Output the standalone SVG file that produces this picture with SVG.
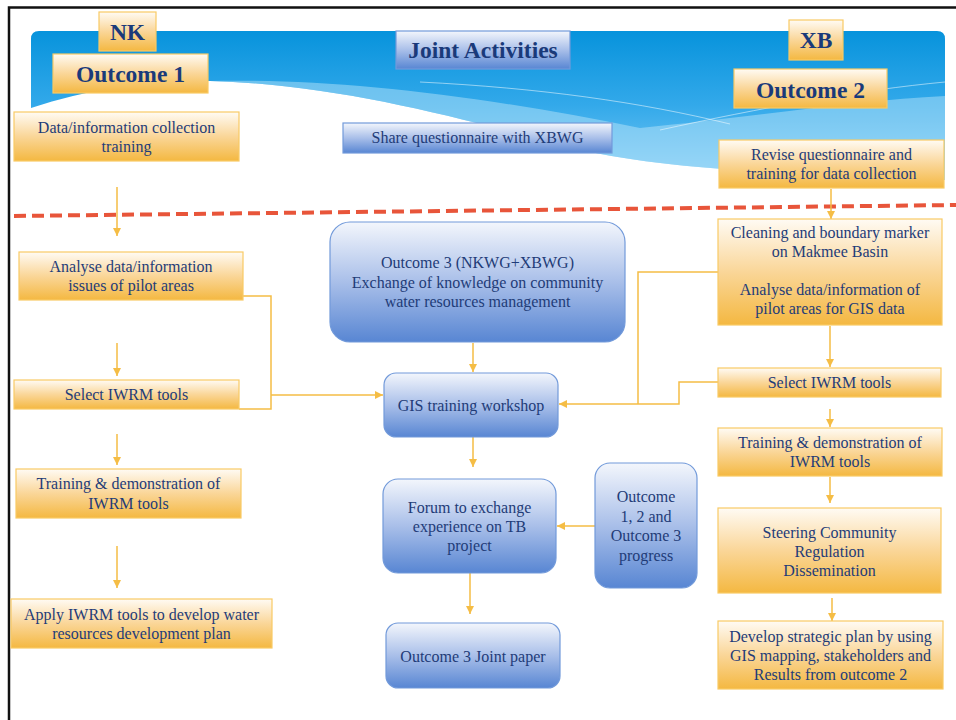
<svg xmlns="http://www.w3.org/2000/svg" width="956" height="720" viewBox="0 0 956 720">
  <defs>
    <linearGradient id="gOrange" x1="0" y1="0" x2="0" y2="1">
      <stop offset="0" stop-color="#fffbf4"/>
      <stop offset="0.5" stop-color="#fad698"/>
      <stop offset="1" stop-color="#f4b841"/>
    </linearGradient>
    <linearGradient id="gBlue" x1="0" y1="0" x2="0" y2="1">
      <stop offset="0" stop-color="#f3f6fc"/>
      <stop offset="0.5" stop-color="#a9bfe9"/>
      <stop offset="1" stop-color="#5886d3"/>
    </linearGradient>
    <linearGradient id="gBanner" gradientUnits="userSpaceOnUse" x1="0" y1="31" x2="0" y2="180">
      <stop offset="0" stop-color="#0793dc"/>
      <stop offset="0.5" stop-color="#33a9ea"/>
      <stop offset="1" stop-color="#7ccbf5"/>
    </linearGradient>
    <marker id="arrow" markerUnits="userSpaceOnUse" markerWidth="9" markerHeight="9" refX="8" refY="4.5" orient="auto">
      <path d="M0,0.5 L8,4.5 L0,8.5 Z" fill="#f5bd45"/>
    </marker>
    <style>
      .org { fill: url(#gOrange); stroke: #f8ca65; stroke-width: 1.2; }
      .blu { fill: url(#gBlue); stroke: #729ada; stroke-width: 1.2; }
      .t { font-family: "Liberation Serif", "Times New Roman", serif; font-size: 16px; fill: #1f3c78; text-anchor: middle; }
      .b { font-family: "Liberation Serif", "Times New Roman", serif; font-size: 23.5px; font-weight: bold; fill: #1a3a7a; text-anchor: middle; }
      .c { fill: none; stroke: #f5bd45; stroke-width: 1.5; }
      .ca { fill: none; stroke: #f5bd45; stroke-width: 1.5; marker-end: url(#arrow); }
    </style>
  </defs>

  <!-- page frame -->
  <path d="M9,720 V7.5 H956" fill="none" stroke="#111" stroke-width="2.5"/>

  <!-- header banner with wave -->
  <g id="banner">
    <path d="M31,108 V39 Q31,31 39,31 H937 Q945,31 945,39 V180 C720,172 640,165 560,145 C450,115 330,84 210,81 C150,80 90,88 31,108 Z" fill="url(#gBanner)"/>
    <path d="M210,81 C330,78 480,95 640,128 C760,116 860,100 945,96 V180 C720,172 640,165 560,145 C450,115 330,84 210,81 Z" fill="#c4e8fb" opacity="0.45"/>
    <path d="M420,82 C540,88 640,102 730,124" fill="none" stroke="#ffffff" stroke-opacity="0.5" stroke-width="1"/>
    <path d="M660,130 C760,108 860,90 945,82" fill="none" stroke="#ffffff" stroke-opacity="0.5" stroke-width="1"/>
  </g>

  <!-- divider between planning and implementation -->
  <line x1="14" y1="216" x2="956" y2="205" stroke="#e8553a" stroke-width="4" stroke-dasharray="12 6"/>

  <!-- connectors -->
  <g id="connectors">
    <path class="ca" d="M117,187 V236"/>
    <path class="ca" d="M117,343 V376"/>
    <path class="ca" d="M117,434 V465"/>
    <path class="ca" d="M117,546 V588"/>
    <path class="c" d="M243,296 H271 V409 H239"/>
    <path class="ca" d="M271,395 H383"/>
    <path class="ca" d="M473,343 V372"/>
    <path class="ca" d="M473,437 V467"/>
    <path class="ca" d="M595,526 H557"/>
    <path class="ca" d="M470,573 V614"/>
    <path class="ca" d="M831,189 V219"/>
    <path class="ca" d="M830,326 V367"/>
    <path class="ca" d="M830,409 V427"/>
    <path class="ca" d="M830,477 V503"/>
    <path class="ca" d="M832,598 V621"/>
    <path class="c" d="M718,272 H638 V404"/>
    <path class="ca" d="M718,382 H679 V404 H559"/>
  </g>

  <!-- NK side (Outcome 1) -->
  <g id="nk">
    <rect class="org" x="99" y="12" width="57" height="39"/>
    <text class="b" x="127.5" y="40">NK</text>
  </g>
  <g id="outcome1">
    <rect class="org" x="53" y="54" width="155" height="39"/>
    <text class="b" x="130.5" y="82">Outcome 1</text>
  </g>
  <g id="nk-collection-training">
    <rect class="org" x="14" y="112" width="225" height="49"/>
    <text class="t" x="126.5" y="132.5">Data/information collection</text>
    <text class="t" x="126.5" y="152">training</text>
  </g>
  <g id="nk-analyse">
    <rect class="org" x="19" y="252" width="224" height="48"/>
    <text class="t" x="131" y="272">Analyse data/information</text>
    <text class="t" x="131" y="291">issues of pilot areas</text>
  </g>
  <g id="nk-select-tools">
    <rect class="org" x="14" y="380" width="225" height="29"/>
    <text class="t" x="126.5" y="400">Select IWRM tools</text>
  </g>
  <g id="nk-training-demo">
    <rect class="org" x="16" y="469" width="225" height="49"/>
    <text class="t" x="128.5" y="489">Training &amp; demonstration of</text>
    <text class="t" x="128.5" y="508.5">IWRM tools</text>
  </g>
  <g id="nk-apply-tools">
    <rect class="org" x="11" y="599" width="261" height="49"/>
    <text class="t" x="141.5" y="619.5">Apply IWRM tools to develop water</text>
    <text class="t" x="141.5" y="638.5">resources development plan</text>
  </g>

  <!-- joint activities (Outcome 3) -->
  <g id="joint-activities">
    <rect class="blu" x="396" y="31" width="174" height="38"/>
    <text class="b" x="483" y="58">Joint Activities</text>
  </g>
  <g id="share-questionnaire">
    <rect class="blu" x="343" y="123" width="269" height="30"/>
    <text class="t" x="477.5" y="143">Share questionnaire with XBWG</text>
  </g>
  <g id="outcome3">
    <rect class="blu" x="330" y="222" width="295" height="120" rx="20"/>
    <text class="t" x="477.5" y="268">Outcome 3 (NKWG+XBWG)</text>
    <text class="t" x="477.5" y="288">Exchange of knowledge on community</text>
    <text class="t" x="477.5" y="307">water resources management</text>
  </g>
  <g id="gis-workshop">
    <rect class="blu" x="384" y="373" width="174" height="64" rx="12"/>
    <text class="t" x="471" y="411">GIS training workshop</text>
  </g>
  <g id="forum">
    <rect class="blu" x="383" y="479" width="173" height="94" rx="15"/>
    <text class="t" x="469.5" y="513">Forum to exchange</text>
    <text class="t" x="469.5" y="532">experience on TB</text>
    <text class="t" x="469.5" y="551">project</text>
  </g>
  <g id="progress">
    <rect class="blu" x="595" y="463" width="102" height="125" rx="15"/>
    <text class="t" x="646" y="502">Outcome</text>
    <text class="t" x="646" y="522">1, 2 and</text>
    <text class="t" x="646" y="541">Outcome 3</text>
    <text class="t" x="646" y="561">progress</text>
  </g>
  <g id="joint-paper">
    <rect class="blu" x="386" y="623" width="174" height="65" rx="12"/>
    <text class="t" x="473" y="662">Outcome 3 Joint paper</text>
  </g>

  <!-- XB side (Outcome 2) -->
  <g id="xb">
    <rect class="org" x="789" y="20" width="54" height="40"/>
    <text class="b" x="816" y="48">XB</text>
  </g>
  <g id="outcome2">
    <rect class="org" x="734" y="69" width="153" height="39"/>
    <text class="b" x="810.5" y="98">Outcome 2</text>
  </g>
  <g id="xb-revise">
    <rect class="org" x="719" y="140" width="225" height="48"/>
    <text class="t" x="831.5" y="159.5">Revise questionnaire and</text>
    <text class="t" x="831.5" y="179">training for data collection</text>
  </g>
  <g id="xb-cleaning">
    <rect class="org" x="718" y="219" width="224" height="106"/>
    <text class="t" x="830" y="238">Cleaning and boundary marker</text>
    <text class="t" x="830" y="257">on Makmee Basin</text>
    <text class="t" x="830" y="295">Analyse data/information of</text>
    <text class="t" x="830" y="314">pilot areas for GIS data</text>
  </g>
  <g id="xb-select-tools">
    <rect class="org" x="718" y="368" width="223" height="29"/>
    <text class="t" x="829.5" y="388">Select IWRM tools</text>
  </g>
  <g id="xb-training-demo">
    <rect class="org" x="718" y="428" width="224" height="48"/>
    <text class="t" x="830" y="447.5">Training &amp; demonstration of</text>
    <text class="t" x="830" y="467">IWRM tools</text>
  </g>
  <g id="xb-steering">
    <rect class="org" x="718" y="508" width="223" height="85"/>
    <text class="t" x="829.5" y="537.5">Steering Community</text>
    <text class="t" x="829.5" y="557">Regulation</text>
    <text class="t" x="829.5" y="576">Dissemination</text>
  </g>
  <g id="xb-strategic-plan">
    <rect class="org" x="718" y="621" width="225" height="68"/>
    <text class="t" x="830.5" y="642">Develop strategic plan by using</text>
    <text class="t" x="830.5" y="661">GIS mapping, stakeholders and</text>
    <text class="t" x="830.5" y="680">Results from outcome 2</text>
  </g>
</svg>
